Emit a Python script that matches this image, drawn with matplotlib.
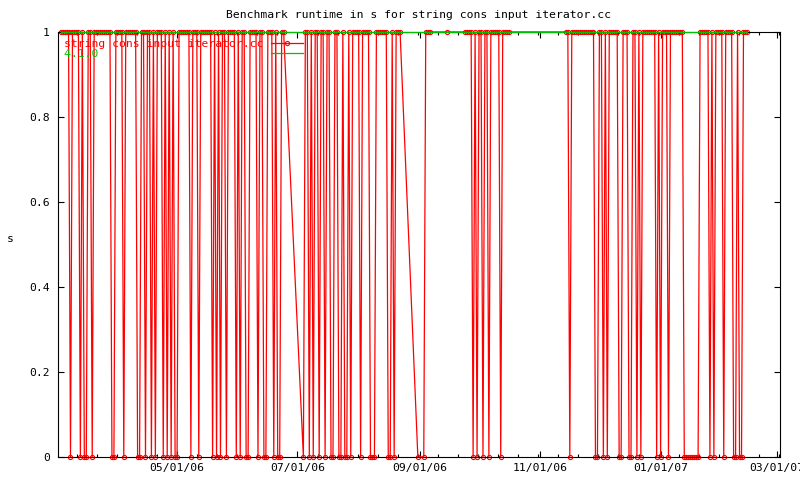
import pandas as pd
import matplotlib
matplotlib.use('Agg')
import matplotlib.pyplot as plt
import matplotlib.dates as mdates
from matplotlib.ticker import AutoMinorLocator

plt.rcParams['font.family'] = ['DejaVu Sans Mono']
plt.rcParams['font.size'] = 8.2

# Runtime per day: one char per day starting at first_day
# '1' = 1 s, '0' = 0 s, '.' = no run that day
first_day = '2006-03-03'
block_mar_apr = ["11111", "0", "1111", "0", "1", "00", "11", "0", "111111111", "00",
                 "1111", "0", "111111", "00", "11", "0", "11", "0", "1", "0", "111",
                 "0", "1", "0", "1", "0", "1", "00"]
block_may_jun = ["111111", "0", "111", "0", "111111", "0", "1", "0", "1", "0", "11",
                 "0", "1111", "0", "1", "0", "11", "00", "1111", "0", "11", "00",
                 "111", "0", "1", "00", "11", "........."]
block_jul_aug = ["0", "11", "0", "1", "0", "11", "0", "11", "0", "11", "00", "11",
                 "00", "1", "00", "1", "0", "1111", "0", "1111", "000", "111111",
                 "00", "1", "0", "111", "........"]
block_sep_oct = ["0", "..", "0", "111", "........", "1", "........",
                 "1111", "0", "1", "0", "11", "0", "11", "0", "11111", "0", "1111",
                 "............................"]
block_nov_feb = ["11", "0", "111111111111", "00", "11", "0", "1", "0", "11111", "00",
                 "111", "00", "11", "0", "1", "0", "1111111", "0", "1", "0", "111",
                 "0", "1111111", "00000000", "11111", "0", "1", "0", "1111", "0",
                 "1111", "00", "1", "00", "111"]

baseline_runtime = 1.0  # "4.1.0" sits at 1 s the whole time

series_name = 'string cons input iterator.cc'
baseline_name = '4.1.0'

# Build the point list (skip days without a run, gnuplot joins across gaps)
day_codes = "".join(block_mar_apr + block_may_jun + block_jul_aug + block_sep_oct + block_nov_feb)
all_days = pd.date_range(first_day, periods=len(day_codes), freq='D')
df = pd.DataFrame({'date': all_days, 'code': list(day_codes)})
df = df[df['code'] != '.']
df['runtime'] = df['code'].astype(float)

fig = plt.figure(figsize=(8, 4.8), dpi=100)
ax = fig.add_axes([58 / 800, 23 / 480, 722 / 800, 425 / 480])

ax.plot(df['date'], df['runtime'], color='#ff0000', lw=0.9, marker='o', ms=3.0,
        mfc='none', mec='#ff0000', mew=0.8, clip_on=False, label=series_name, zorder=2)
ax.plot(df['date'], [baseline_runtime] * len(df), color='#00c000', lw=0.9,
        clip_on=False, label=baseline_name, zorder=3)

ax.set_xlim(pd.Timestamp('2006-03-01 16:00'), pd.Timestamp('2007-03-02 12:00'))
ax.set_ylim(0, 1)
ax.set_yticks([0, 0.2, 0.4, 0.6, 0.8, 1])
ax.set_yticklabels(['0', '0.2', '0.4', '0.6', '0.8', '1'])

ax.xaxis.set_major_locator(mdates.MonthLocator(bymonth=[1, 3, 5, 7, 9, 11]))
ax.xaxis.set_major_formatter(mdates.DateFormatter('%m/%d/%y'))
ax.xaxis.set_minor_locator(AutoMinorLocator(6))

ax.tick_params(which='both', direction='in', top=True, right=True, colors='black', width=0.8)
ax.tick_params(which='major', length=4.5)
ax.tick_params(which='minor', length=2.5)
ax.tick_params(axis='x', which='major', pad=4)
ax.tick_params(axis='y', which='major', pad=6)
for s in ax.spines.values():
    s.set_linewidth(0.8)

ax.set_title('Benchmark runtime in s for string cons input iterator.cc', fontsize=8.2, pad=10)
ax.set_ylabel('s', rotation=0)
ax.yaxis.set_label_coords(-0.066, 0.5)

# gnuplot-style key: text left, sample right; pad short label so texts line up left
longest = max(len(series_name), len(baseline_name))
leg = ax.legend(loc='upper left', bbox_to_anchor=(0.009, 0.984), frameon=False, markerfirst=False,
                labelcolor='linecolor', handlelength=2.8, handletextpad=0.6, labelspacing=0.0,
                borderaxespad=0, borderpad=0, fontsize=8.2)
for t in leg.get_texts():
    t.set_text(t.get_text().ljust(longest, '\u00a0'))

fig.savefig('out.png', dpi=100)
